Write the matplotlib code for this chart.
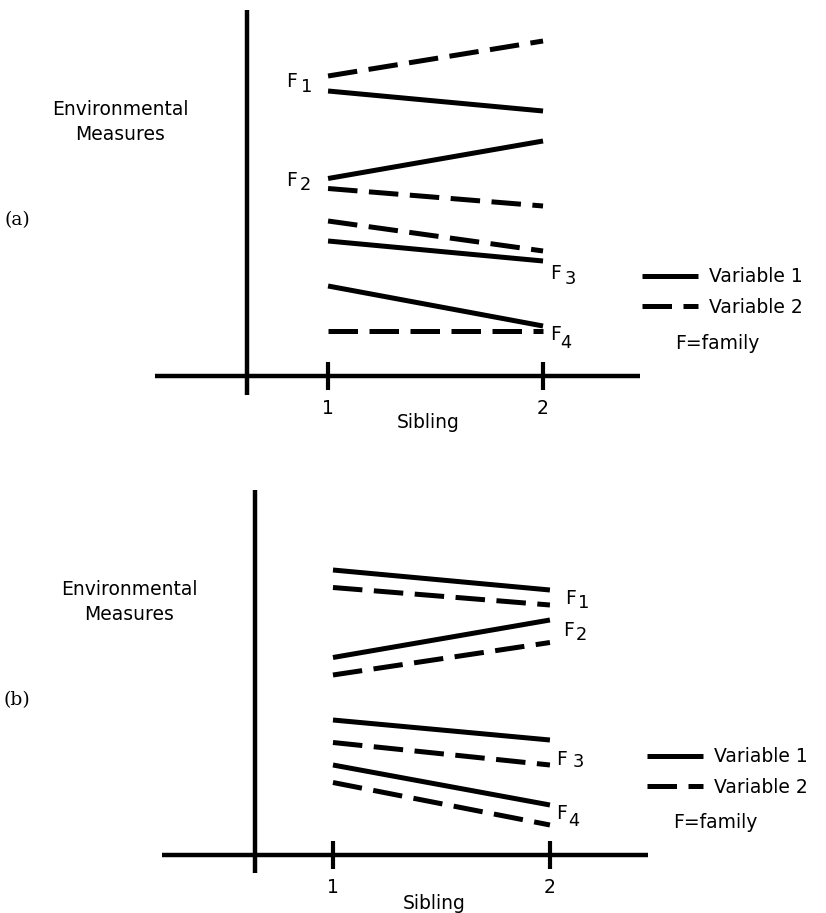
import matplotlib
matplotlib.use('Agg')
import matplotlib.pyplot as plt

# ---------------------------------------------------------------- data
sibling = [1, 2]
families = ['1', '2', '3', '4']
# variable 1 is the same in both panels
var1 = [[11.4, 10.6], [7.9, 9.4], [5.4, 4.6], [3.6, 2.0]]
# variable 2: (a) families differ, (b) follows variable 1
var2_a = [[12.0, 13.4], [7.5, 6.8], [6.2, 5.0], [1.8, 1.8]]
var2_b = [[10.7, 10.0], [7.2, 8.5], [4.5, 3.6], [2.9, 1.2]]
tick_labels = ['1', '2']
legend_labels = ['Variable 1', 'Variable 2']

# ---------------------------------------------------------------- layout
W, H = 826, 913
plt.rcParams['font.family'] = ['DejaVu Sans']
FS = 13.5
LW = 3.6
DASH = (5.9, 2.3)

fig = plt.figure(figsize=(W / 100, H / 100), dpi=100)


def fx(x):
    return x / W


def fy(y):
    return 1 - y / H


def box(l, t, r, b):
    return [fx(l), fy(b), (r - l) / W, (b - t) / H]


def draw_panel(rect, xlim, ylim, yaxis_x, var2, label_pos, legend_xy,
               family_xy, title_xy, tag, tag_xy, sib_xy):
    ax = fig.add_axes(rect)
    ax.set_xlim(*xlim)
    ax.set_ylim(*ylim)
    ax.patch.set_alpha(0)

    for s in ['top', 'right']:
        ax.spines[s].set_visible(False)
    ax.spines['bottom'].set_position(('data', 0))
    ax.spines['left'].set_position(('data', yaxis_x))
    for s in ['bottom', 'left']:
        ax.spines[s].set_linewidth(3.2)
        ax.spines[s].set_capstyle('butt')

    ax.set_xticks(sibling)
    ax.set_xticklabels(tick_labels, fontsize=FS)
    ax.tick_params(axis='x', direction='inout', length=19.5, width=3.0, pad=7)
    ax.set_yticks([])

    h1 = h2 = None
    for v1, v2 in zip(var1, var2):
        h1, = ax.plot(sibling, v1, color='black', lw=LW, solid_capstyle='butt')
        h2, = ax.plot(sibling, v2, color='black', lw=LW, dashes=DASH)

    # family labels: "F" with a lowered, nearly full-size digit
    for fam, (xf, yf, xd, yd) in zip(families, label_pos):
        fig.text(fx(xf - 2), fy(yf), 'F', fontsize=FS, ha='left', va='center')
        fig.text(fx(xd - 2), fy(yd), fam, fontsize=12.8, ha='left', va='center')

    ax.legend([h1, h2], legend_labels, loc='center left',
              bbox_to_anchor=(fx(legend_xy[0]), fy(legend_xy[1])),
              bbox_transform=fig.transFigure, frameon=False,
              fontsize=FS, handlelength=3.0, handletextpad=0.55,
              labelspacing=0.62, borderpad=0, borderaxespad=0)
    fig.text(fx(family_xy[0]), fy(family_xy[1]), 'F=family', fontsize=FS,
             ha='center', va='center')

    fig.text(fx(title_xy[0]), fy(title_xy[1]), 'Environmental\nMeasures',
             fontsize=FS, ha='center', va='center', linespacing=1.45)
    fig.text(fx(tag_xy[0]), fy(tag_xy[1]), tag, fontsize=FS,
             family='DejaVu Serif', ha='center', va='center')
    fig.text(fx(sib_xy[0]), fy(sib_xy[1]), 'Sibling', fontsize=FS,
             ha='center', va='center')
    return ax


# (a)
draw_panel(rect=box(155, 10, 640, 395), xlim=(0.195, 2.451), ylim=(-0.76, 14.64),
           yaxis_x=0.623, var2=var2_a,
           label_pos=[(288, 81.5, 303, 86.5), (288, 180, 302, 185.5),
                      (552, 273.5, 567, 279.5), (552, 334.5, 562, 343.5)],
           legend_xy=(642, 292), family_xy=(717, 343),
           title_xy=(120, 122), tag='(a)', tag_xy=(17, 220), sib_xy=(428, 422))

# (b)
draw_panel(rect=box(162, 490, 648, 873), xlim=(0.212, 2.452), ylim=(-0.72, 14.6),
           yaxis_x=0.641, var2=var2_b,
           label_pos=[(567, 598.5, 580, 602.5), (565, 630, 578, 635.5),
                      (558, 759.5, 575, 761.5), (558, 813.5, 570, 821)],
           legend_xy=(647, 772), family_xy=(715, 823),
           title_xy=(129, 602), tag='(b)', tag_xy=(17, 700), sib_xy=(434, 903))

fig.savefig('out.png', dpi=100)
